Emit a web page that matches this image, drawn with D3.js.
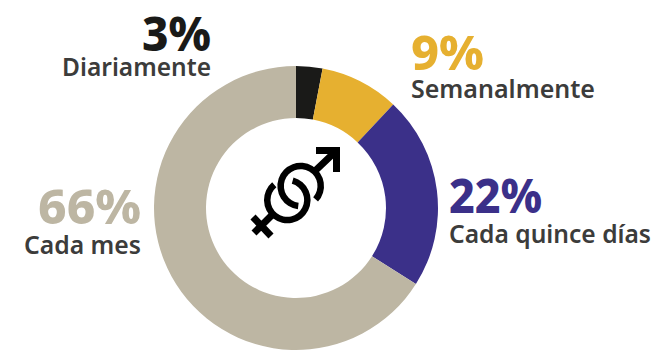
<!DOCTYPE html>
<html><head><meta charset="utf-8"><style>html,body{margin:0;background:#fff}svg{display:block}</style>
<script src="https://cdn.jsdelivr.net/npm/d3@7"></script></head><body><svg id="c" width="662" height="357"></svg>
<script>
const categories=["Diariamente","Semanalmente","Cada quince días","Cada mes"];
const values=[3,9,22,66];
const colors=["#1a1a18","#e6b030","#3b3089","#bdb6a3"];
const pctX=[211,411,449,141],pctY=[51,70,213,224],pctLen=[69,73,93,103];
const nameX=[211,411,449,141],nameY=[76,98,243,254],nameLen=[149,184,202,117];
const anchors=["end","start","start","end"];
const svg=d3.select("#c");
const g=svg.append("g").attr("transform","translate(296,208)");
const pie=d3.pie().sort(null)(values);
const arc=d3.arc().innerRadius(90).outerRadius(142);
g.selectAll("path").data(pie).join("path").attr("d",arc).attr("fill",(d,i)=>colors[i]);
const font="'Noto Sans','Open Sans',sans-serif";
categories.forEach((c,i)=>{
 svg.append("text").attr("x",pctX[i]).attr("y",pctY[i]).attr("text-anchor",anchors[i]).attr("font-family",font).attr("font-weight",800).attr("font-size",48).attr("fill",colors[i]).attr("textLength",pctLen[i]).attr("lengthAdjust","spacingAndGlyphs").text(values[i]+"%");
 svg.append("text").attr("x",nameX[i]).attr("y",nameY[i]).attr("text-anchor",anchors[i]).attr("font-family",font).attr("font-weight",600).attr("font-size",25).attr("fill","#3c3c3b").attr("textLength",nameLen[i]).attr("lengthAdjust","spacingAndGlyphs").text(c);
});
const rad=a=>a*Math.PI/180;
const ring=d3.arc().innerRadius(16.8).outerRadius(23.3);
const sym=svg.append("g");
sym.append("path").attr("transform","translate(300.7,186)").attr("d",ring({startAngle:rad(187),endAngle:rad(492)}));
sym.append("path").attr("transform","translate(287.3,200)").attr("d",ring({startAngle:rad(15.5),endAngle:rad(319.5)}));
sym.append("path").attr("fill","none").attr("stroke","#000").attr("stroke-width",7)
 .attr("d","M272 215L254 233M253 217L271 236M316 170L336 151M316 150.5H336.5V172");
</script></body></html>
